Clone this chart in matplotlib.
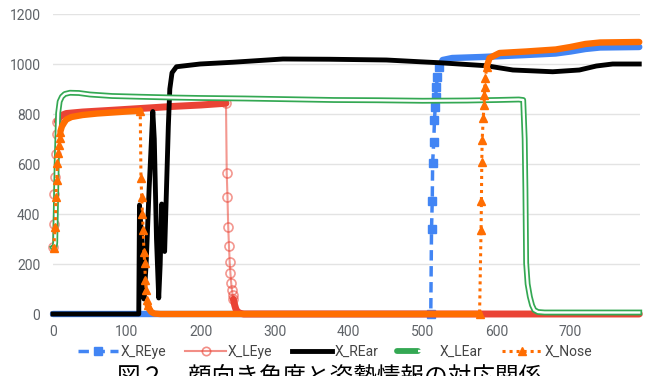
import numpy as np
import matplotlib
matplotlib.use("Agg")
import matplotlib.pyplot as plt
from matplotlib.lines import Line2D
from matplotlib.legend_handler import HandlerTuple

# ---------------- data (frame index vs x coordinate) ----------------
reye_x = [0, 100, 200, 300, 400, 511, 512, 513, 513.5, 515, 516, 517, 517.6, 518.5, 520, 522.6, 527,
          540, 580, 640, 680, 700, 720, 740, 793]
reye_y = [0, 0, 0, 0, 0, 0, 340, 453, 604, 688, 776, 828, 868, 908, 948, 988, 1016,
          1024, 1028, 1036, 1042, 1050, 1060, 1066, 1068]

leye_x = [0, 1, 2, 3, 4, 5, 6, 8, 12, 18, 40, 80, 118, 160, 200, 234, 235, 236, 237, 238, 239, 240,
          241, 242, 243, 244, 245, 246, 247, 248, 250, 253, 258, 400, 600, 793]
leye_y = [268, 360, 480, 548, 640, 720, 770, 785, 795, 802, 808, 815, 822, 830, 836, 843, 564, 469,
          349, 273, 207, 163, 125, 96, 76, 59, 45, 33, 23, 15, 8, 3, 0, 0, 0, 0]

rear_x = [0, 116, 117, 120, 123, 126, 130, 135, 137, 140, 143, 145, 147, 149, 151, 153, 156, 158,
          161, 167, 199, 243, 311, 374, 451, 496, 523, 586, 622, 676, 712, 735, 757, 793]
rear_y = [0, 0, 436, 300, 60, 200, 500, 810, 700, 300, 64, 200, 440, 300, 250, 450, 750, 900,
          965, 989, 1000, 1007, 1020, 1019, 1016, 1009, 1005, 993, 976, 969, 976, 992, 1000, 1000]

lear_x = [0, 2, 3, 5, 7, 9, 12, 16, 23, 35, 50, 80, 118, 160, 200, 260, 320, 380, 440, 500, 560,
          600, 630, 636, 638, 639, 640, 642, 645, 648, 651, 656, 665, 793]
lear_y = [265, 268, 285, 604, 804, 850, 869, 880, 885, 884, 878, 872, 869, 866, 864, 862, 859, 856,
          855, 853, 854, 856, 858, 856, 700, 500, 204, 120, 69, 35, 16, 8, 6, 6]

nose_x = [1, 3, 4, 5, 6, 7, 8, 9, 10, 12, 15, 18, 25, 40, 60, 80, 100, 118, 119, 120, 121, 122,
          123, 124, 125, 126, 127, 128, 130, 133, 137, 145, 300, 450, 577, 579, 579.5, 580, 580.5,
          582, 583, 583.6, 584, 585, 586.5, 590.5, 604, 640, 680, 700, 720, 740, 793]
nose_y = [263, 349, 469, 536, 604, 644, 676, 703, 730, 750, 765, 778, 788, 796, 802, 806, 810, 813,
          544, 469, 400, 336, 249, 204, 136, 96, 56, 36, 20, 8, 2, 0, 0, 0, 0, 336, 453, 608, 696,
          784, 836, 876, 908, 944, 988, 1024, 1044, 1050, 1058, 1068, 1080, 1086, 1088]

y_ticks = [0, 200, 400, 600, 800, 1000, 1200]
x_ticks = [0, 100, 200, 300, 400, 500, 600, 700]
labels = ["X_REye", "X_LEye", "X_REar", "X_LEar", "X_Nose"]
caption = "図２　顔向き角度と姿勢情報の対応関係"

BLUE, RED, BLACK, GREEN, ORANGE = "#4285F4", "#EA4335", "#000000", "#34A853", "#FF6D01"

plt.rcParams["font.family"] = ["Roboto", "DejaVu Sans"]

fig = plt.figure(figsize=(6.49, 3.76), dpi=100)
ax = fig.add_axes([53 / 649, 1 - 314 / 376, 587 / 649, 300 / 376])


def band(x, y, thresh=15.0):
    """Split a series into its flat parts (dense markers form a solid band) and
    the indices of points lying on steep transitions (markers visible)."""
    x = np.asarray(x, float)
    y = np.asarray(y, float)
    slope = np.abs(np.diff(y) / np.diff(x))
    flat = slope < thresh
    keep = np.zeros(len(x), bool)
    keep[:-1] |= flat
    keep[1:] |= flat
    steep = np.zeros(len(x), bool)
    steep[:-1] |= ~flat
    steep[1:] |= ~flat
    xs, ys = [], []
    for i in range(len(x)):
        if i > 0 and keep[i] and keep[i - 1] and not flat[i - 1]:
            xs.append(np.nan)
            ys.append(np.nan)
        xs.append(x[i])
        ys.append(y[i] if keep[i] else np.nan)
    return np.array(xs), np.array(ys), list(np.where(steep)[0])


NC = dict(clip_on=False)

# X_REye
bx, by, mk = band(reye_x, reye_y)
ax.plot(bx, by, color=BLUE, lw=4.6, solid_capstyle="round", zorder=2, **NC)
ax.plot(reye_x, reye_y, color=BLUE, lw=2.5, ls=(0, (3, 1.6)), marker="s", ms=5.5,
        markevery=mk, zorder=2, **NC)

# X_LEye
bx, by, mk = band(leye_x, leye_y)
ax.plot(bx, by, color=RED, lw=5.0, solid_capstyle="round", zorder=3, **NC)
ax.plot(leye_x, leye_y, color=RED, lw=1.5, alpha=0.55, marker="o", ms=6.5,
        mfc="none", mec=RED, mew=1.2, markevery=mk, zorder=3, **NC)

# X_REar
ax.plot(rear_x, rear_y, color=BLACK, lw=3.5, solid_joinstyle="round", zorder=4, **NC)

# X_LEar (double line)
ax.plot(lear_x, lear_y, color=GREEN, lw=4.2, zorder=5, **NC)
ax.plot(lear_x, lear_y, color="white", lw=1.7, zorder=5, **NC)

# X_Nose
bx, by, mk = band(nose_x, nose_y)
ax.plot(bx, by, color=ORANGE, lw=4.6, solid_capstyle="round", zorder=6, **NC)
ax.plot(nose_x, nose_y, color=ORANGE, lw=2.2, ls=(0, (1, 1.3)), marker="^", ms=6,
        markevery=mk, zorder=6, **NC)

ax.set_xlim(0, 794)
ax.set_ylim(0, 1200)
ax.set_yticks(y_ticks)
ax.set_xticks(x_ticks)
ax.set_yticklabels([str(v) for v in y_ticks])
ax.set_xticklabels([str(v) for v in x_ticks])
ax.tick_params(length=0, labelsize=10, colors="#5f6368", pad=9)
ax.tick_params(axis="x", pad=8)
ax.grid(axis="y", color="#e3e3e3", lw=1)
ax.set_axisbelow(True)
for s in ax.spines.values():
    s.set_visible(False)

# legend
h_reye = Line2D([], [], color=BLUE, lw=2.5, ls=(0, (3, 1.6)), marker="s", ms=5.5)
h_leye = Line2D([], [], color=RED, lw=1.5, alpha=0.6, marker="o", ms=6, mfc="none", mew=1.2)
h_rear = Line2D([], [], color=BLACK, lw=3.5)
h_lear = (Line2D([], [], color=GREEN, lw=4.2, solid_capstyle="round"),
          Line2D([], [], color="white", lw=1.7, solid_capstyle="butt"))
h_nose = Line2D([], [], color=ORANGE, lw=2.2, ls=(0, (1, 1.3)), marker="^", ms=6)
leg = fig.legend([h_reye, h_leye, h_rear, h_lear, h_nose], labels, loc="center",
                 bbox_to_anchor=(335 / 649, 1 - 352 / 376), ncol=5, frameon=False,
                 fontsize=10, handlelength=2.9, handletextpad=0.15, columnspacing=1.4,
                 handler_map={tuple: HandlerTuple(ndivide=None, pad=0)})
for t in leg.get_texts():
    t.set_color("#444444")

fig.text(330 / 649, 1 - 367 / 376, caption, ha="center", va="top", fontsize=17,
         family=["Noto Sans CJK JP", "DejaVu Sans"], color="#000000")

fig.savefig("out.png", dpi=100)
